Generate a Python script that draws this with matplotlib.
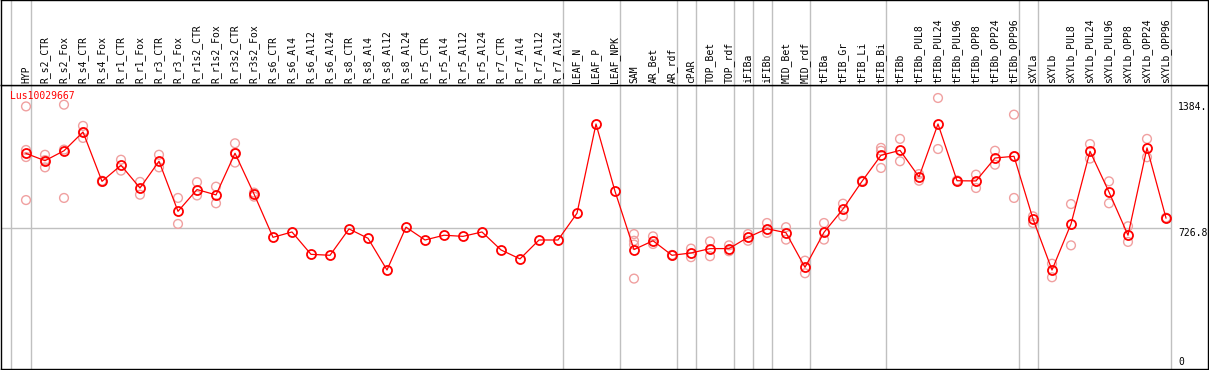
import matplotlib
matplotlib.use("Agg")
import matplotlib.pyplot as plt

categories = ["HYP", "R_s2_CTR", "R_s2_Fox", "R_s4_CTR", "R_s4_Fox", "R_r1_CTR", "R_r1_Fox",
              "R_r3_CTR", "R_r3_Fox", "R_r1s2_CTR", "R_r1s2_Fox", "R_r3s2_CTR", "R_r3s2_Fox",
              "R_s6_CTR", "R_s6_Al4", "R_s6_Al12", "R_s6_Al24", "R_s8_CTR", "R_s8_Al4",
              "R_s8_Al12", "R_s8_Al24", "R_r5_CTR", "R_r5_Al4", "R_r5_Al12", "R_r5_Al24",
              "R_r7_CTR", "R_r7_Al4", "R_r7_Al12", "R_r7_Al24", "LEAF_N", "LEAF_P", "LEAF_NPK",
              "SAM", "AR_Bet", "AR_rdf", "cPAR", "TOP_Bet", "TOP_rdf", "iFIBa", "iFIBb",
              "MID_Bet", "MID_rdf", "tFIBa", "tFIB_Gr", "tFIB_Li", "tFIB_Bi", "tFIBb",
              "tFIBb_PUL8", "tFIBb_PUL24", "tFIBb_PUL96", "tFIBb_OPP8", "tFIBb_OPP24",
              "tFIBb_OPP96", "sXYLa", "sXYLb", "sXYLb_PUL8", "sXYLb_PUL24", "sXYLb_PUL96",
              "sXYLb_OPP8", "sXYLb_OPP24", "sXYLb_OPP96"]

means = [1117, 1079, 1131, 1229, 971, 1055, 936, 1076, 814, 928, 900, 1118, 905,
         678, 706, 589, 584, 722, 673, 507, 731, 664, 689, 683, 706, 612, 565, 664, 664,
         804, 1271, 919, 614, 660, 584, 596, 619, 619, 678, 723, 702, 521, 704, 826, 971,
         1107, 1133, 994, 1271, 974, 973, 1093, 1102, 774, 507, 748, 1128, 915, 689, 1146, 779]

replicates = [[1363, 1135, 1098, 873], [1110, 1082, 1044], [1372, 1137, 884], [1261, 1228, 1198],
              [974, 968], [1084, 1027], [968, 901], [1110, 1044], [884, 748], [967, 897],
              [943, 856], [1170, 1119, 1069], [912, 891],
              [], [], [], [], [], [], [], [], [], [], [], [], [], [], [], [],
              [], [], [],
              [695, 660, 640, 462], [683, 643], [586, 582], [619, 574], [657, 579], [636, 605],
              [695, 660], [753, 701], [731, 666], [556, 490], [753, 666], [854, 788], [974, 968],
              [1146, 1131, 1041], [1193, 1076], [1009, 974], [1407, 1140], [976, 972],
              [1006, 936], [1131, 1058], [1320, 1102, 884], [788, 753], [540, 469],
              [852, 636], [1166, 1090], [971, 856], [736, 654], [1193, 1097], [781, 777]]

group_sizes = [1, 28, 3, 3, 1, 2, 1, 1, 2, 4, 7, 1, 7]
axis_labels = ["1384.", "726.8", "0"]
axis_values = [1384, 726.8, 0]
title = "Lus10029667"

W, H = 1209, 370
fig = plt.figure(figsize=(W / 100, H / 100), dpi=100)
FONT = "DejaVu Sans Mono"
FS = 7.0
RED = "#ff0000"
PINK = "#f0a0a0"
GRAY = "#c0c0c0"

x_lo = -25 / 19
x_hi = x_lo + 1207 / 19
y_lo, y_hi = -11, 1475

ax = fig.add_axes([1 / W, 1 / H, 1207 / W, 284 / H])
hx = fig.add_axes([1 / W, 285 / H, 1207 / W, 85 / H])
for a in (ax, hx):
    a.set_xlim(x_lo, x_hi)
    a.set_xticks([])
    a.set_yticks([])
    for s in a.spines.values():
        s.set_color("black")
        s.set_linewidth(1.0)
ax.set_ylim(y_lo, y_hi)
hx.set_ylim(0, 1)

# group separators
bounds = []
acc = 0
for g in group_sizes:
    acc += g
    bounds.append(acc - 1 + 0.25)
for a in (ax, hx):
    a.axvline(-0.8, color=GRAY, lw=1.0, zorder=0)
    for b in bounds:
        a.axvline(b, color=GRAY, lw=1.0, zorder=0)
ax.hlines(axis_values[1], x_lo, bounds[-1], color=GRAY, lw=1.0, zorder=0)

xs = list(range(len(categories)))
# replicates
rx, ry = [], []
for i, reps in enumerate(replicates):
    for v in reps:
        rx.append(i)
        ry.append(v)
ax.scatter(rx, ry, s=40, facecolors="none", edgecolors=PINK, linewidths=1.0, zorder=2)
ax.plot(xs, means, color=RED, lw=0.9, marker="o", mfc="none", mec=RED, ms=6.5, mew=1.3, zorder=3)

# header labels
for i, c in enumerate(categories):
    hx.text(i, 2 / 85, c, rotation=90, ha="center", va="bottom", fontsize=FS,
            family=FONT, color="black")

# right axis labels
xr = (1178 - 26) / 19
ax.text(xr, axis_values[0], axis_labels[0], ha="left", va="top", fontsize=FS, family=FONT)
ax.text(xr, axis_values[1], axis_labels[1], ha="left", va="top", fontsize=FS, family=FONT)
ax.text(xr, axis_values[2] + 8, axis_labels[2], ha="left", va="baseline", fontsize=FS, family=FONT)

ax.text(9 / 1207, (369 - 96) / 284, title, transform=ax.transAxes, ha="left", va="center",
        fontsize=FS, family=FONT, color=RED)

fig.savefig("out.png", dpi=100)
